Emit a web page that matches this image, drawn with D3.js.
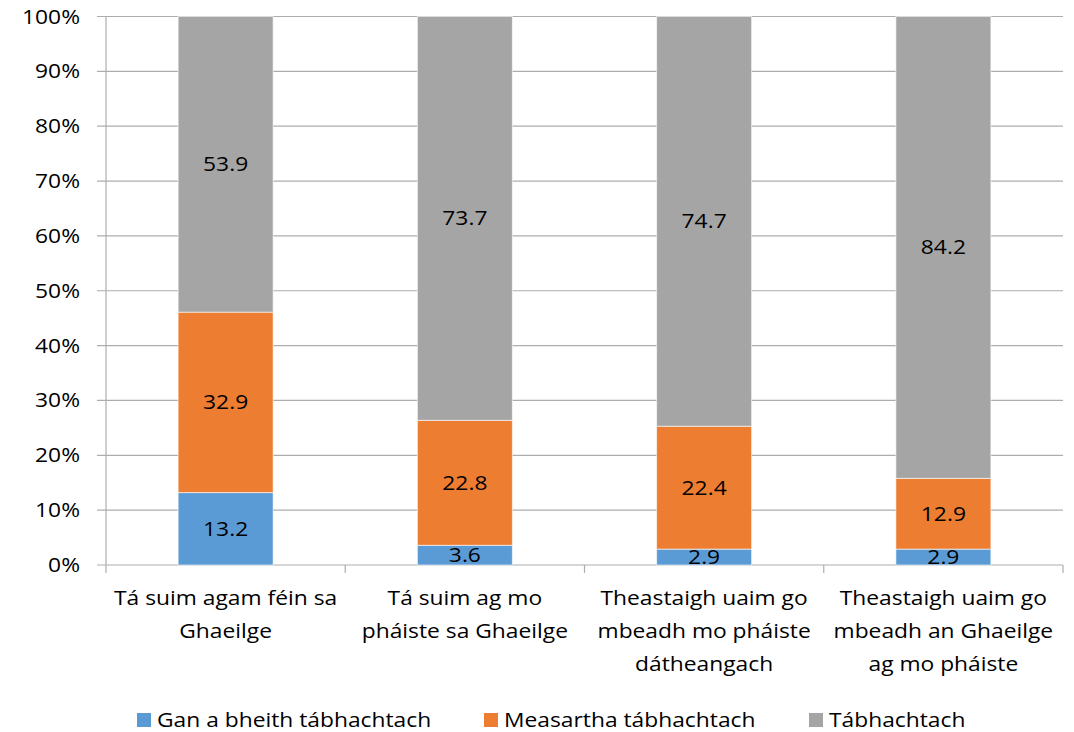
<!DOCTYPE html>
<html>
<head>
<meta charset="utf-8">
<script src="https://cdn.jsdelivr.net/npm/d3@7"></script>
<style>
  html, body { margin: 0; padding: 0; background: #fff; }
  svg text { font-family: "Open Sans", "Noto Sans", sans-serif; fill: #000; }
</style>
</head>
<body>
<svg id="chart" width="1074" height="732"></svg>
<script>
const categories = [
  ["Tá suim agam féin sa", "Ghaeilge"],
  ["Tá suim ag mo", "pháiste sa Ghaeilge"],
  ["Theastaigh uaim go", "mbeadh mo pháiste", "dátheangach"],
  ["Theastaigh uaim go", "mbeadh an Ghaeilge", "ag mo pháiste"]
];
const seriesNames = ["Gan a bheith tábhachtach", "Measartha tábhachtach", "Tábhachtach"];
const ganValues = [13.2, 3.6, 2.9, 2.9];
const measarthaValues = [32.9, 22.8, 22.4, 12.9];
const tabhachtachValues = [53.9, 73.7, 74.7, 84.2];
const yTicks = [0, 0.1, 0.2, 0.3, 0.4, 0.5, 0.6, 0.7, 0.8, 0.9, 1.0];
const colors = ["#5B9BD5", "#ED7D31", "#A5A5A5"];

(function () {
const seriesValues = [ganValues, measarthaValues, tabhachtachValues];
const rows = categories.map((c, i) => {
  const r = { idx: i };
  seriesNames.forEach((s, j) => r[s] = seriesValues[j][i]);
  return r;
});

const FS = 20, SX = 1.14;
const svg = d3.select("#chart");
const pLeft = 106, pRight = 1063, pTop = 16.5, pBottom = 565;

const x = d3.scaleBand().domain(d3.range(categories.length)).range([pLeft, pRight]).paddingInner(0.6).paddingOuter(0.3);
const y = d3.scaleLinear().domain([0, 1]).range([pBottom, pTop]);

const stack = d3.stack().keys(seriesNames).offset(d3.stackOffsetExpand);
const stacked = stack(rows);

svg.append("g").selectAll("line").data(yTicks).join("line")
  .attr("x1", pLeft - 9).attr("x2", pRight)
  .attr("y1", d => y(d)).attr("y2", d => y(d))
  .attr("stroke", "#ADADAD").attr("stroke-width", 1.2);

svg.append("line").attr("x1", pLeft).attr("x2", pLeft).attr("y1", pTop).attr("y2", pBottom)
  .attr("stroke", "#ADADAD").attr("stroke-width", 1.2);

const bounds = d3.range(categories.length + 1).map(i => pLeft + (pRight - pLeft) * i / categories.length);
svg.append("g").selectAll("line").data(bounds).join("line")
  .attr("x1", d => d).attr("x2", d => d).attr("y1", pBottom).attr("y2", pBottom + 8)
  .attr("stroke", "#ADADAD").attr("stroke-width", 1.2);

svg.append("g").selectAll("text").data(yTicks).join("text")
  .attr("transform", d => `translate(80,${y(d)}) scale(${SX},1)`)
  .attr("dy", "0.35em")
  .attr("text-anchor", "end").attr("font-size", FS)
  .text(d => d3.format(".0%")(d));

const bw = 95;
const bandCenter = i => x(i) + x.bandwidth() / 2;
const layers = svg.append("g").selectAll("g").data(stacked).join("g")
  .attr("fill", (d, i) => colors[i]);
layers.selectAll("rect").data(d => d).join("rect")
  .attr("x", (d, i) => bandCenter(i) - bw / 2)
  .attr("width", bw)
  .attr("y", d => y(d[1]))
  .attr("height", d => y(d[0]) - y(d[1]))
  .attr("stroke", "#ffffff").attr("stroke-opacity", 0.6).attr("stroke-width", 1);

stacked.forEach((layer, j) => {
  svg.append("g").selectAll("text").data(layer).join("text")
    .attr("transform", (d, i) => `translate(${bandCenter(i)},${(y(d[0]) + y(d[1])) / 2}) scale(${SX},1)`)
    .attr("dy", "0.35em")
    .attr("text-anchor", "middle").attr("font-size", FS)
    .text((d, i) => seriesValues[j][i].toFixed(1));
});

categories.forEach((lines, i) => {
  const t = svg.append("text").attr("text-anchor", "middle").attr("font-size", FS)
    .attr("transform", `translate(${bandCenter(i)},0) scale(${SX},1)`);
  lines.forEach((ln, k) => {
    t.append("tspan").attr("x", 0).attr("y", 598 + k * 33).attr("dy", "0.35em").text(ln);
  });
});

const legendX = [137, 484, 809];
const lg = svg.append("g").selectAll("g").data(seriesNames).join("g")
  .attr("transform", (d, i) => `translate(${legendX[i]},713)`);
lg.append("rect").attr("width", 14).attr("height", 14).attr("fill", (d, i) => colors[i]);
lg.append("text").attr("transform", `translate(20,7) scale(${SX},1)`).attr("dy", "0.35em").attr("font-size", FS).text(d => d);
})();
</script>
</body>
</html>
